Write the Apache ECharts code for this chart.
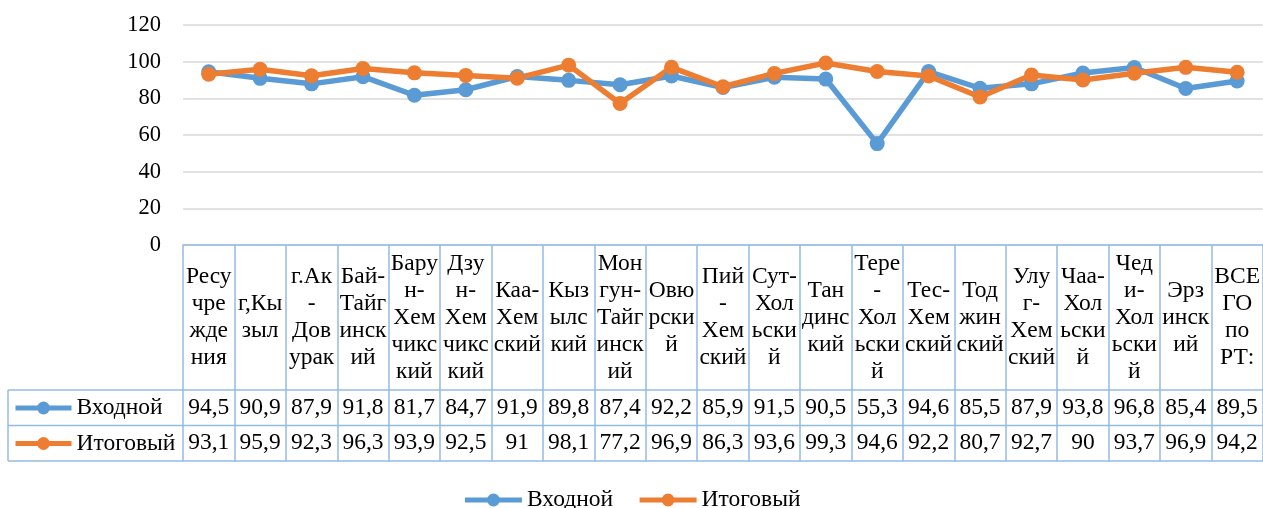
<!DOCTYPE html>
<html>
<head>
<meta charset="utf-8">
<script src="https://cdn.jsdelivr.net/npm/echarts@6/dist/echarts.min.js"></script>
<style>
  html, body { margin: 0; padding: 0; background: #fff; }
  #chart { width: 1263px; height: 508px; }
</style>
</head>
<body>
<div id="chart"></div>
<script>
const categories = [
  'Ресу\nчре\nжде\nния', 'г,Кы\nзыл', 'г.Ак\n-\nДов\nурак', 'Бай-\nТайг\nинск\nий',
  'Бару\nн-\nХем\nчикс\nкий', 'Дзу\nн-\nХем\nчикс\nкий', 'Каа-\nХем\nский', 'Кыз\nылс\nкий',
  'Мон\nгун-\nТайг\nинск\nий', 'Овю\nрски\nй', 'Пий\n-\nХем\nский', 'Сут-\nХол\nьски\nй',
  'Тан\nдинс\nкий', 'Тере\n-\nХол\nьски\nй', 'Тес-\nХем\nский', 'Тод\nжин\nский',
  'Улу\nг-\nХем\nский', 'Чаа-\nХол\nьски\nй', 'Чед\nи-\nХол\nьски\nй', 'Эрз\nинск\nий',
  'ВСЕ\nГО\nпо\nРТ:'
]
const vhodnoy = [94.5, 90.9, 87.9, 91.8, 81.7, 84.7, 91.9, 89.8, 87.4, 92.2, 85.9, 91.5, 90.5, 55.3, 94.6, 85.5, 87.9, 93.8, 96.8, 85.4, 89.5]
const itogovy = [93.1, 95.9, 92.3, 96.3, 93.9, 92.5, 91, 98.1, 77.2, 96.9, 86.3, 93.6, 99.3, 94.6, 92.2, 80.7, 92.7, 90, 93.7, 96.9, 94.2]
const yTicks = [0, 20, 40, 60, 80, 100, 120]

const FONT = "'Liberation Serif', 'Times New Roman', serif"
const FS = 23.5
const BORDER = '#94bbe3'
const gridLeft = 183
const gridTop = 25
const gridHeight = 220
const axisY = gridTop + gridHeight
const labelRowH = 145
const rowH = 35.5
const tableLeft = 8
const W = 1263

const fmt = (v) => String(v).replace('.', ',')

const valueAxis = (vals, row) => ({
  type: 'category',
  gridIndex: 0,
  position: 'bottom',
  data: vals.map(fmt),
  axisLine: { show: false },
  axisTick: { show: false },
  axisLabel: {
    interval: 0,
    margin: labelRowH + rowH * (row + 0.5),
    verticalAlign: 'middle',
    fontFamily: FONT,
    fontSize: FS,
    color: '#000'
  }
})

const hLine = (y) => ({
  type: 'line',
  shape: { x1: tableLeft, y1: y, x2: W, y2: y },
  style: { stroke: BORDER, lineWidth: 1.5 }
})

const chart = echarts.init(document.getElementById('chart'))
chart.setOption({
  animation: false,
  color: ['#5b9bd5', '#ed7d31'],
  textStyle: { fontFamily: FONT },
  grid: { left: gridLeft, top: gridTop, height: gridHeight, right: 0 },
  legend: [
    {
      data: ['Входной', 'Итоговый'],
      left: 'center',
      top: 483,
      itemWidth: 57,
      itemHeight: 16,
      itemGap: 24,
      lineStyle: { width: 5 },
      textStyle: { fontFamily: FONT, fontSize: FS, color: '#000' }
    },
    {
      data: ['Входной', 'Итоговый'],
      orient: 'vertical',
      left: 13,
      top: axisY + labelRowH + 6,
      itemWidth: 56,
      itemHeight: 16,
      itemGap: 11.5,
      padding: 0,
      lineStyle: { width: 5 },
      textStyle: { fontFamily: FONT, fontSize: FS, color: '#000', lineHeight: 24 }
    }
  ],
  xAxis: [
    {
      type: 'category',
      data: categories,
      boundaryGap: true,
      axisLine: { lineStyle: { color: BORDER, width: 1.5 } },
      axisTick: {
        show: true,
        length: labelRowH + rowH * 2,
        lineStyle: { color: BORDER, width: 1.5 }
      },
      axisLabel: {
        interval: 0,
        margin: labelRowH / 2,
        verticalAlign: 'middle',
        lineHeight: 27,
        fontFamily: FONT,
        fontSize: FS,
        color: '#000'
      }
    },
    valueAxis(vhodnoy, 0),
    valueAxis(itogovy, 1)
  ],
  yAxis: {
    type: 'value',
    min: yTicks[0],
    max: yTicks[yTicks.length - 1],
    interval: 20,
    axisLine: { show: false },
    axisTick: { show: false },
    axisLabel: { margin: 22, fontFamily: FONT, fontSize: 22.5, color: '#000' },
    splitLine: { lineStyle: { color: '#d9d9d9', width: 1.5 } }
  },
  graphic: [
    hLine(axisY + labelRowH),
    hLine(axisY + labelRowH + rowH),
    hLine(axisY + labelRowH + rowH * 2),
    {
      type: 'line',
      shape: { x1: tableLeft, y1: axisY + labelRowH, x2: tableLeft, y2: axisY + labelRowH + rowH * 2 },
      style: { stroke: BORDER, lineWidth: 1.5 }
    }
  ],
  series: [
    {
      name: 'Входной',
      type: 'line',
      data: vhodnoy,
      symbol: 'circle',
      symbolSize: 15,
      lineStyle: { width: 5.5 }
    },
    {
      name: 'Итоговый',
      type: 'line',
      data: itogovy,
      symbol: 'circle',
      symbolSize: 15,
      lineStyle: { width: 5.5 }
    }
  ]
})
</script>
</body>
</html>
